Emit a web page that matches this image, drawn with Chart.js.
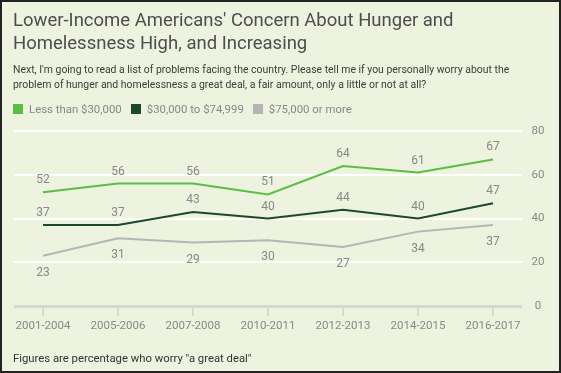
<!DOCTYPE html>
<html>
<head>
<meta charset="utf-8">
<script src="https://cdn.jsdelivr.net/npm/chart.js"></script>
<style>
  body { margin: 0; background: #fff; }
  #wrap { position: relative; width: 561px; height: 373px; background: #edf3df; overflow: hidden; font-family: Roboto, sans-serif; }
  #frame { position: absolute; left: 0; top: 0; width: 561px; height: 373px; box-sizing: border-box; border: 2px solid #222; pointer-events: none; }
  #title { position: absolute; left: 13px; top: 9px; font-size: 18.5px; line-height: 23px; color: #4d4d4d; }
  #subtitle { position: absolute; left: 13px; top: 63px; width: 545px; font-size: 10.45px; line-height: 14.5px; color: #3c3c3c; }
  #legend { position: absolute; left: 13px; top: 102px; font-size: 11.4px; line-height: 14px; color: #888; white-space: nowrap; }
  .item { display: inline-block; margin-right: 9px; }
  .box { display: inline-block; width: 10px; height: 10px; margin-right: 6px; vertical-align: -1px; }
  #footer { position: absolute; left: 13px; top: 352px; font-size: 11.3px; line-height: 14px; color: #333; }
  canvas { position: absolute; left: 0; top: 0; }
</style>
</head>
<body>
<div id="wrap">
  <canvas id="chart" width="561" height="373"></canvas>
  <div id="title">Lower-Income Americans' Concern About Hunger and<br>Homelessness High, and Increasing</div>
  <div id="subtitle">Next, I'm going to read a list of problems facing the country. Please tell me if you personally worry about the<br>problem of hunger and homelessness a great deal, a fair amount, only a little or not at all?</div>
  <div id="legend"></div>
  <div id="footer">Figures are percentage who worry "a great deal"</div>
  <div id="frame"></div>
</div>
<script>
const periods = ['2001-2004', '2005-2006', '2007-2008', '2010-2011', '2012-2013', '2014-2015', '2016-2017'];
const seriesNames = ['Less than $30,000', '$30,000 to $74,999', '$75,000 or more'];
const lowIncome = [52, 56, 56, 51, 64, 61, 67];
const midIncome = [37, 37, 43, 40, 44, 40, 47];
const highIncome = [23, 31, 29, 30, 27, 34, 37];
const yTicks = [0, 20, 40, 60, 80];

const colors = ['#5cbd45', '#1c4a2a', '#b5b5b5'];
const labelSide = ['above', 'above', 'below'];
const seriesValues = [lowIncome, midIncome, highIncome];

// html legend
const legend = document.getElementById('legend');
seriesNames.forEach((name, i) => {
    const item = document.createElement('span');
    item.className = 'item';
    item.innerHTML = '<span class="box" style="background:' + colors[i] + '"></span>' + name;
    legend.appendChild(item);
});

const pointLabels = {
    id: 'pointLabels',
    afterDatasetsDraw(chart) {
        const ctx = chart.ctx;
        ctx.save();
        ctx.font = '12px Roboto';
        ctx.fillStyle = '#888';
        ctx.textAlign = 'center';
        ctx.textBaseline = 'middle';
        chart.data.datasets.forEach((ds, i) => {
            chart.getDatasetMeta(i).data.forEach((pt, j) => {
                const dy = labelSide[i] === 'below' ? 17 : -12;
                ctx.fillText(ds.data[j].y, pt.x, pt.y + dy);
            });
        });
        ctx.restore();
    }
};

const data = {
    datasets: seriesNames.map((name, i) => ({
        label: name,
        data: seriesValues[i].map((v, j) => ({x: j, y: v})),
        borderColor: colors[i],
        backgroundColor: colors[i],
        borderWidth: 2,
        pointRadius: 0,
        tension: 0,
        fill: false
    }))
};

const config = {
    type: 'line',
    data: data,
    options: {
        responsive: false,
        devicePixelRatio: 1,
        animation: false,
        layout: {padding: {top: 131, left: 14, right: 7, bottom: 0}},
        plugins: {legend: {display: false}, tooltip: {enabled: false}},
        scales: {
            x: {
                type: 'linear',
                min: -0.3867,
                max: 6.3867,
                afterBuildTicks: scale => { scale.ticks = periods.map((p, i) => ({value: i})); },
                afterFit: scale => { scale.height = 67; },
                ticks: {
                    callback: v => periods[v],
                    color: '#888',
                    font: {family: 'Roboto', size: 11.5},
                    padding: 3,
                    maxRotation: 0,
                    autoSkip: false
                },
                grid: {drawOnChartArea: false, drawTicks: true, tickLength: 10, color: '#d6d8d2', lineWidth: 2},
                border: {display: false}
            },
            y: {
                position: 'right',
                min: 0,
                max: 80,
                afterBuildTicks: scale => { scale.ticks = yTicks.map(v => ({value: v})); },
                afterFit: scale => { scale.width = 32; },
                ticks: {
                    color: '#888',
                    font: {family: 'Roboto', size: 11.5},
                    padding: 9.5,
                    crossAlign: 'center'
                },
                grid: {
                    drawTicks: false,
                    color: c => c.tick && c.tick.value === 0 ? '#d6d8d2' : '#ffffff',
                    lineWidth: c => c.tick && c.tick.value === 0 ? 3 : 2
                },
                border: {display: false}
            }
        }
    },
    plugins: [pointLabels]
};

const myChart = new Chart(document.getElementById('chart'), config);
</script>
</body>
</html>
